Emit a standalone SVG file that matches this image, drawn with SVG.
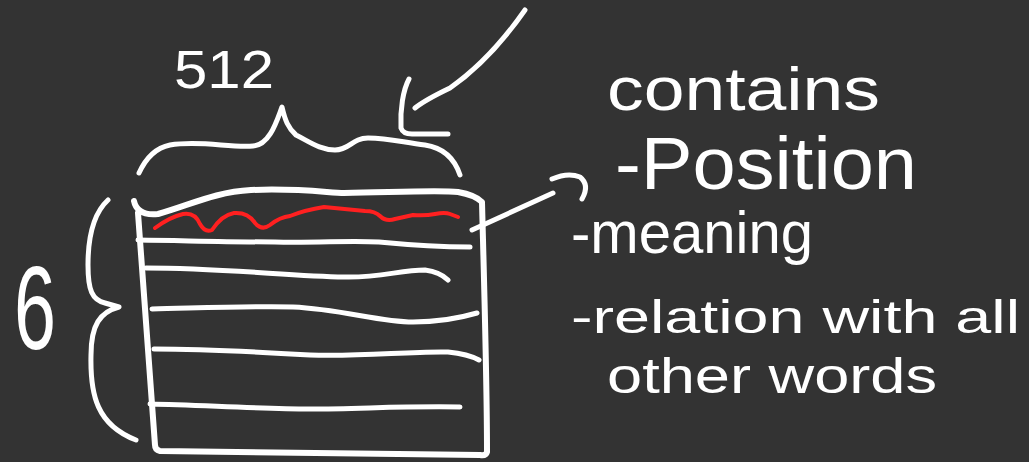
<svg xmlns="http://www.w3.org/2000/svg" width="1029" height="462" viewBox="0 0 1029 462">
<style>
.s{fill:none;stroke:#ffffff;stroke-width:5;stroke-linecap:round;stroke-linejoin:round}
.b{stroke-width:6}
.r{fill:none;stroke:#ff2020;stroke-width:4;stroke-linecap:round;stroke-linejoin:round}
.t{fill:#ffffff;font-family:"Liberation Sans","DejaVu Sans",sans-serif}
</style>
<rect width="1029" height="462" fill="#333333"/>
<g id="stack">
<path class="s b" d="M134,201 Q137,216 158,214 C190,205 215,192 251,190 C300,188 330,193 344,193 C400,192 440,190 458,192 Q475,195 482,202 C484,280 487,380 487,452 Q486,456 480,455 L160,451 Q155,450 155,445 L138,213"/>
<path class="s" d="M138,240 C200,241 240,242 275,242 C320,243 350,240 379,242 C410,245 440,247 470,247"/>
<path class="s" d="M146,268 C220,268 290,276 344,277 C380,278 400,270 425,270 Q440,272 448,280"/>
<path class="s" d="M152,309 C200,308 250,306 293,307 C340,309 380,322 413,322 C440,322 460,318 477,313"/>
<path class="s" d="M154,349 C200,349 260,352 310,355 C360,357 410,351 448,352 Q468,354 479,360"/>
<path class="s" d="M150,404 C200,405 260,409 310,409 C360,409 400,406 460,407"/>
<path class="r" d="M155,228 Q170,217 183,214 Q195,212 200,224 Q205,233 212,230 Q222,215 234,213 Q248,212 255,223 Q262,231 270,225 Q280,217 290,216 Q305,210 324,207 L365,211 Q375,211 380,216 Q386,222 395,219 L413,215 Q425,216 435,214 Q445,212 450,214 L458,217"/>
</g>
<g id="width-brace">
<path class="s" d="M139,173 C145,160 155,148 170,145 C200,140 230,148 253,146 C270,145 277,120 282,107 C285,120 288,128 296,135 C310,142 320,150 335,150 C350,150 352,138 368,138 C390,138 405,143 425,145 C445,148 455,160 460,175"/>
<text class="t" x="174" y="88" font-size="54" textLength="100" lengthAdjust="spacingAndGlyphs">512</text>
</g>
<g id="height-brace">
<path class="s" d="M108,200 C95,212 88,235 88,265 C88,290 92,300 105,303 L119,307 C100,312 91,325 91,355 C90,395 97,425 136,440"/>
<text class="t" x="14" y="349" font-size="118" textLength="42" lengthAdjust="spacingAndGlyphs">6</text>
</g>
<g id="connectors">
<path class="s" d="M525,10 Q490,60 450,88 Q425,100 415,108"/>
<path class="s" d="M409,79 C403,90 400,110 401,128 Q403,134 412,134 L448,134"/>
<path class="s" d="M472,230 L553,193"/>
<path class="s" d="M552,179 Q568,172 580,177 Q590,185 582,199"/>
</g>
<g id="contains-list">
<text class="t" x="607" y="110" font-size="62" textLength="273" lengthAdjust="spacingAndGlyphs">contains</text>
<text class="t" x="615" y="189" font-size="74" textLength="302" lengthAdjust="spacingAndGlyphs">-Position</text>
<text class="t" x="571" y="253" font-size="60" textLength="242" lengthAdjust="spacingAndGlyphs">-meaning</text>
<text class="t" x="571" y="333" font-size="46" textLength="449" lengthAdjust="spacingAndGlyphs">-relation with all</text>
<text class="t" x="607" y="393" font-size="50" textLength="330" lengthAdjust="spacingAndGlyphs">other words</text>
</g>
</svg>
